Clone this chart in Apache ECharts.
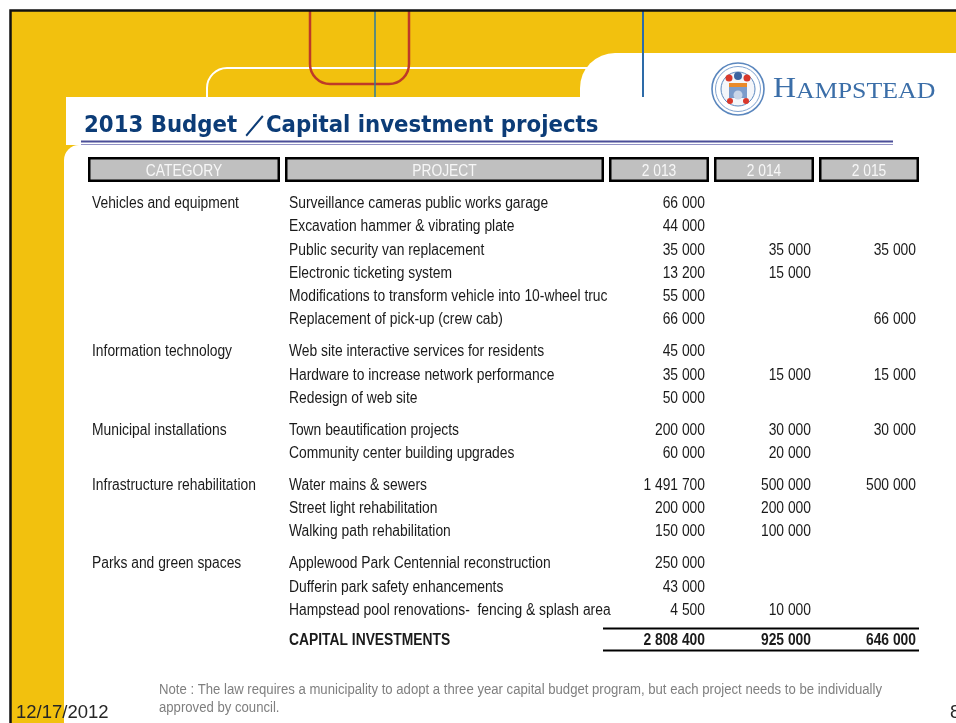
<!DOCTYPE html>
<html>
<head>
<meta charset="utf-8">
<script src="https://cdn.jsdelivr.net/npm/echarts/dist/echarts.min.js"></script>
<style>
    html, body { margin: 0; padding: 0; background: #fff; }
    #chart-container { width: 956px; height: 723px; }
</style>
</head>
<body>
<div id="chart-container"></div>
<script>
// table content
var groups = ['Vehicles and equipment', 'Information technology', 'Municipal installations',
    'Infrastructure rehabilitation', 'Parks and green spaces'];
var projects = [
    ['Surveillance cameras public works garage', 'Excavation hammer & vibrating plate',
     'Public security van replacement', 'Electronic ticketing system',
     'Modifications to transform vehicle into 10-wheel truc', 'Replacement of pick-up (crew cab)'],
    ['Web site interactive services for residents', 'Hardware to increase network performance',
     'Redesign of web site'],
    ['Town beautification projects', 'Community center building upgrades'],
    ['Water mains & sewers', 'Street light rehabilitation', 'Walking path rehabilitation'],
    ['Applewood Park Centennial reconstruction', 'Dufferin park safety enhancements',
     'Hampstead pool renovations-  fencing & splash area']
];
var budget2013 = [[66000, 44000, 35000, 13200, 55000, 66000], [45000, 35000, 50000], [200000, 60000],
    [1491700, 200000, 150000], [250000, 43000, 4500]];
var budget2014 = [[null, null, 35000, 15000, null, null], [null, 15000, null], [30000, 20000],
    [500000, 200000, 100000], [null, null, 10000]];
var budget2015 = [[null, null, 35000, null, null, 66000], [null, 15000, null], [30000, null],
    [500000, null, null], [null, null, null]];
var headerLabels = ['CATEGORY', 'PROJECT'];
var years = [2013, 2014, 2015];
var totalLabel = 'CAPITAL INVESTMENTS';
var titleText = '2013 Budget \uFF0FCapital investment projects';
var noteLines = ['Note : The law requires a municipality to adopt a three year capital budget program, but each project needs to be individually',
    'approved by council.'];
var dateText = '12/17/2012';
var pageText = '8';

// layout
var NARROW = 0.865;
var FONT = '"Liberation Sans", Arial, sans-serif';
var GROUP_GAP = 0.37, TOTAL_GAP = 1.3, HEADER_POS = -1.4;
var ROW_H = 23.27, FIRST_Y = 202;
var TEXT_DY = 1.7; // canvas 'middle' sits a bit high for these fonts
var boxes = [[88, 280], [285, 604], [609, 709], [714, 814], [819, 919]];
var catX = 92, projX = 289, valX = [705, 811, 916];

function fmt(v) {
    if (v == null) return '';
    return String(v).replace(/\B(?=(\d{3})+(?!\d))/g, ' ');
}
function sum(arr) {
    var s = 0;
    arr.forEach(function (g) { g.forEach(function (v) { s += v || 0; }); });
    return s;
}

var rows = [{ kind: 'header', pos: HEADER_POS }];
var flat = 0;
groups.forEach(function (g, gi) {
    projects[gi].forEach(function (p, pi) {
        rows.push({
            kind: 'body', pos: flat + gi * GROUP_GAP,
            category: pi === 0 ? g : '', project: p,
            values: [budget2013[gi][pi], budget2014[gi][pi], budget2015[gi][pi]]
        });
        flat++;
    });
});
rows.push({
    kind: 'total', pos: rows[rows.length - 1].pos + TOTAL_GAP, project: totalLabel,
    values: [sum(budget2013), sum(budget2014), sum(budget2015)]
});

function txt(x, y, s, opt) {
    opt = opt || {};
    return {
        type: 'text', x: x, y: y + TEXT_DY, scaleX: opt.scaleX || NARROW,
        style: {
            text: s, fill: opt.fill || '#1a1a1a', fontSize: opt.size || 16,
            fontFamily: opt.family || FONT, fontWeight: opt.weight || 'normal',
            align: opt.align || 'left', verticalAlign: 'middle'
        }
    };
}

function renderRow(params, api) {
    var row = rows[api.value(2)];
    var y = api.coord([0, api.value(1)])[1];
    var unit = api.size([0, 1])[1];
    function cx(v) { return api.coord([v, 0])[0]; }
    var children = [];
    if (row.kind === 'header') {
        var labels = headerLabels.concat(years.map(fmt));
        boxes.forEach(function (b, i) {
            children.push({
                type: 'rect',
                shape: { x: cx(b[0]) + 1.25, y: y - 12.5 + 1.25, width: cx(b[1]) - cx(b[0]) - 2.5, height: 22.5 },
                style: { fill: '#C0C0C0', stroke: '#000', lineWidth: 2.5 }
            });
            children.push(txt((cx(b[0]) + cx(b[1])) / 2, y, labels[i], { fill: '#F7F7F7', align: 'center' }));
        });
        return { type: 'group', children: children };
    }
    var weight = row.kind === 'total' ? 'bold' : 'normal';
    if (row.category) children.push(txt(cx(catX), y, row.category));
    children.push(txt(cx(projX), y, row.project, { weight: weight }));
    row.values.forEach(function (v, i) {
        if (v != null) children.push(txt(cx(valX[i]), y, fmt(v), { align: 'right', weight: weight }));
    });
    if (row.kind === 'total') {
        [-0.45, 0.49].forEach(function (d) {
            children.push({
                type: 'line',
                shape: { x1: cx(boxes[1][1] - 1), y1: y + d * unit, x2: cx(boxes[4][1]), y2: y + d * unit },
                style: { stroke: '#000', lineWidth: 2 }
            });
        });
    }
    return { type: 'group', children: children };
}

var YELLOW = '#F2C10E';
var decor = [
    { type: 'rect', shape: { x: 11, y: 11, width: 945, height: 712 }, style: { fill: YELLOW } },
    { type: 'rect', shape: { x: 207, y: 68, width: 500, height: 200, r: 20 }, style: { fill: null, stroke: '#fff', lineWidth: 2 } },
    { type: 'rect', shape: { x: 580, y: 53, width: 420, height: 700, r: [35, 0, 0, 0] }, style: { fill: '#fff' } },
    { type: 'rect', shape: { x: 66, y: 97, width: 900, height: 48 }, style: { fill: '#fff' } },
    { type: 'rect', shape: { x: 64, y: 145, width: 900, height: 600, r: [15, 0, 0, 0] }, style: { fill: '#fff' } },
    { type: 'rect', shape: { x: 310, y: -100, width: 99, height: 184, r: 20 },
      style: { fill: null, stroke: '#BE3A28', lineWidth: 2.5 } },
    { type: 'line', shape: { x1: 375, y1: 11, x2: 375, y2: 97 }, style: { stroke: '#2C7A9E', lineWidth: 1.5 } },
    { type: 'line', shape: { x1: 643, y1: 11, x2: 643, y2: 97 }, style: { stroke: '#2D6BA8', lineWidth: 2 } },
    { type: 'rect', shape: { x: 0, y: 0, width: 956, height: 10 }, style: { fill: '#fff' } },
    { type: 'polyline', shape: { points: [[10.5, 723], [10.5, 10.5], [956, 10.5]] }, style: { stroke: '#111', lineWidth: 2.5, fill: null } },
    // title
    { type: 'text', x: 84, y: 126.5, scaleX: 0.926,
      style: { text: titleText, fill: '#0C3C77', fontSize: 23, fontWeight: 'bold', fontFamily: '"DejaVu Sans", Verdana, sans-serif', verticalAlign: 'middle' } },
    { type: 'line', shape: { x1: 81, y1: 141.5, x2: 893, y2: 141.5 }, style: { stroke: '#4B4E98', lineWidth: 2 } },
    { type: 'line', shape: { x1: 81, y1: 144.5, x2: 893, y2: 144.5 }, style: { stroke: '#9090C4', lineWidth: 1 } },
    // logo crest
    { type: 'circle', shape: { cx: 738, cy: 89, r: 26 }, style: { fill: '#fff', stroke: '#5B87BE', lineWidth: 1.6 } },
    { type: 'circle', shape: { cx: 738, cy: 89, r: 22.5 }, style: { fill: null, stroke: '#7FA2CF', lineWidth: 1 } },
    { type: 'circle', shape: { cx: 738, cy: 89, r: 17 }, style: { fill: '#F4F6FA', stroke: '#5B87BE', lineWidth: 1 } },
    { type: 'rect', shape: { x: 729, y: 83, width: 18, height: 15 }, style: { fill: '#7C9CCB' } },
    { type: 'rect', shape: { x: 729, y: 83, width: 18, height: 4 }, style: { fill: '#E98A2A' } },
    { type: 'circle', shape: { cx: 738, cy: 95, r: 4.5 }, style: { fill: '#C9D5E8' } },
    { type: 'circle', shape: { cx: 738, cy: 76, r: 4 }, style: { fill: '#3C64A0' } },
    { type: 'circle', shape: { cx: 729, cy: 78, r: 3.5 }, style: { fill: '#D9382B' } },
    { type: 'circle', shape: { cx: 747, cy: 78, r: 3.5 }, style: { fill: '#D9382B' } },
    { type: 'circle', shape: { cx: 730, cy: 101, r: 3 }, style: { fill: '#D9382B' } },
    { type: 'circle', shape: { cx: 746, cy: 101, r: 3 }, style: { fill: '#D9382B' } },
    { type: 'text', x: 773, y: 104, scaleX: 1.1,
      style: { text: 'H', fill: '#3B6EA8', fontSize: 29, fontFamily: '"Liberation Serif", serif', verticalAlign: 'bottom' } },
    { type: 'text', x: 796, y: 103.5, scaleX: 1.1,
      style: { text: 'AMPSTEAD', fill: '#3B6EA8', fontSize: 23.5, fontFamily: '"Liberation Serif", serif', verticalAlign: 'bottom' } },
    // footer
    { type: 'text', x: 159, y: 688 + TEXT_DY, scaleX: NARROW,
      style: { text: noteLines[0], fill: '#7F7F7F', fontSize: 15.2, fontFamily: FONT, verticalAlign: 'middle' } },
    { type: 'text', x: 159, y: 706 + TEXT_DY, scaleX: NARROW,
      style: { text: noteLines[1], fill: '#7F7F7F', fontSize: 15.2, fontFamily: FONT, verticalAlign: 'middle' } },
    { type: 'text', x: 16, y: 711 + TEXT_DY,
      style: { text: dateText, fill: '#262626', fontSize: 18.5, fontFamily: FONT, verticalAlign: 'middle' } },
    { type: 'text', x: 950, y: 711 + TEXT_DY,
      style: { text: pageText, fill: '#262626', fontSize: 18.5, fontFamily: FONT, verticalAlign: 'middle' } }
];

var myChart = echarts.init(document.getElementById('chart-container'));

var option = {
    animation: false,
    graphic: { elements: decor },
    grid: { left: 0, width: 956, top: FIRST_Y - 2 * ROW_H, height: 22 * ROW_H },
    xAxis: { type: 'value', min: 0, max: 956, show: false },
    yAxis: { type: 'value', min: -2, max: 20, inverse: true, show: false },
    series: [{
        type: 'custom',
        z: 10,
        renderItem: renderRow,
        encode: { x: 0, y: 1 },
        data: rows.map(function (r, i) { return [0, r.pos, i]; })
    }]
};
myChart.setOption(option);
</script>
</body>
</html>
